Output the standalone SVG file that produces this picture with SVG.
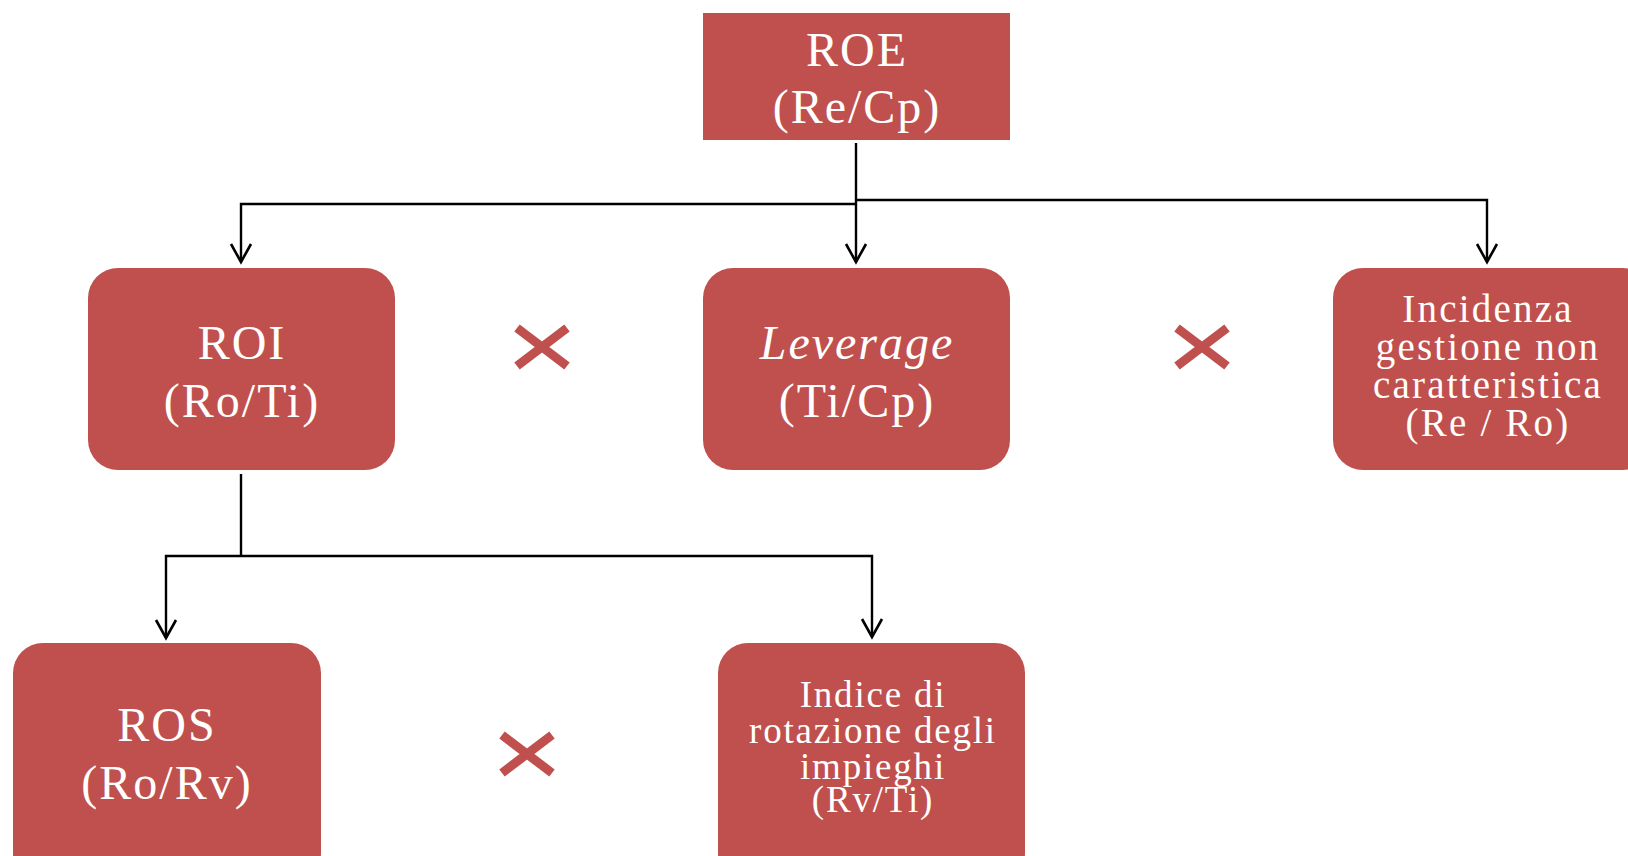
<svg xmlns="http://www.w3.org/2000/svg" width="1628" height="856" viewBox="0 0 1628 856">
<style>
.box{fill:#C0504D}
.t{font-family:"Liberation Serif","Times New Roman",serif;fill:#FFFFFF;text-anchor:middle}
.big{font-size:48px;letter-spacing:2px}
.mid{font-size:39px;letter-spacing:2.2px}
.sm{font-size:37px;letter-spacing:1.8px}
.c{fill:none;stroke:#000;stroke-width:2.4}
.x{stroke:#C0504D;stroke-width:9;stroke-linecap:butt}
</style>
<defs>
<marker id="arr" markerUnits="userSpaceOnUse" markerWidth="26" markerHeight="26" viewBox="-22 -13 26 26" refX="0" refY="0" orient="auto" overflow="visible">
<path d="M-18,-10 L0,0 L-18,10" fill="none" stroke="#000" stroke-width="2.6"/>
</marker>
</defs>
<g id="connectors">
<path class="c" d="M856,143 V262" marker-end="url(#arr)"/>
<path class="c" d="M856,204 H241 V262" marker-end="url(#arr)"/>
<path class="c" d="M856,200 H1487 V262" marker-end="url(#arr)"/>
<path class="c" d="M241,474 V556"/>
<path class="c" d="M241,556 H166 V638" marker-end="url(#arr)"/>
<path class="c" d="M241,556 H872 V637" marker-end="url(#arr)"/>
</g>
<g id="roe">
<rect class="box" x="703" y="13" width="307" height="127"/>
<text class="t big" x="857" y="66">ROE</text>
<text class="t big" x="857" y="123">(Re/Cp)</text>
</g>
<g id="roi">
<rect class="box" x="88" y="268" width="307" height="202" rx="30"/>
<text class="t big" x="242" y="359">ROI</text>
<text class="t big" x="242" y="417">(Ro/Ti)</text>
</g>
<g id="leverage">
<rect class="box" x="703" y="268" width="307" height="202" rx="30"/>
<text class="t big" x="857" y="359" font-style="italic">Leverage</text>
<text class="t big" x="857" y="417">(Ti/Cp)</text>
</g>
<g id="incidenza">
<rect class="box" x="1333" y="268" width="320" height="202" rx="30"/>
<text class="t mid" x="1488" y="322">Incidenza</text>
<text class="t mid" x="1488" y="360">gestione non</text>
<text class="t mid" x="1488" y="398">caratteristica</text>
<text class="t mid" x="1488" y="436">(Re / Ro)</text>
</g>
<g id="ros">
<rect class="box" x="13" y="643" width="308" height="240" rx="30"/>
<text class="t big" x="167" y="741">ROS</text>
<text class="t big" x="167" y="799">(Ro/Rv)</text>
</g>
<g id="indice">
<rect class="box" x="718" y="643" width="307" height="240" rx="30"/>
<text class="t sm" x="873" y="707">Indice di</text>
<text class="t sm" x="873" y="743">rotazione degli</text>
<text class="t sm" x="873" y="779">impieghi</text>
<text class="t sm" x="873" y="812">(Rv/Ti)</text>
</g>
<g id="times1"><path class="x" d="M517,328 L567,366 M567,328 L517,366"/></g>
<g id="times2"><path class="x" d="M1177,328 L1227,366 M1227,328 L1177,366"/></g>
<g id="times3"><path class="x" d="M502,735 L552,773 M552,735 L502,773"/></g>
</svg>
